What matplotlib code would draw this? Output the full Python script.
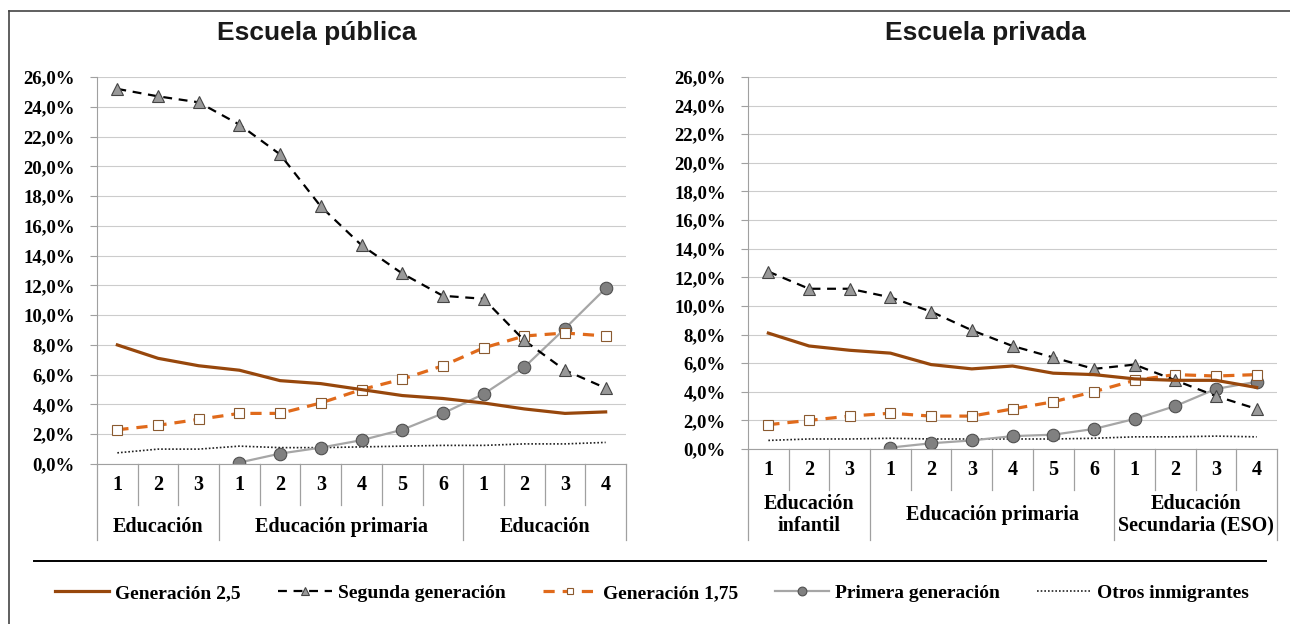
import matplotlib
matplotlib.use("Agg")
import matplotlib.pyplot as plt
from matplotlib.lines import Line2D
import matplotlib.transforms as mtransforms

# ---- data (percent) ----
grades = ["1", "2", "3", "1", "2", "3", "4", "5", "6", "1", "2", "3", "4"]

pub_gen25 = [8.0, 7.1, 6.6, 6.3, 5.6, 5.4, 5.0, 4.6, 4.4, 4.1, 3.7, 3.4, 3.5]
pub_seg = [25.2, 24.7, 24.3, 22.8, 20.8, 17.3, 14.7, 12.8, 11.3, 11.1, 8.3, 6.3, 5.1]
pub_gen175 = [2.3, 2.6, 3.0, 3.4, 3.4, 4.1, 5.0, 5.7, 6.6, 7.8, 8.6, 8.8, 8.6]
pub_prim = [None, None, None, 0.1, 0.7, 1.1, 1.6, 2.3, 3.4, 4.7, 6.5, 9.1, 11.8]
pub_otros = [0.75, 1.0, 1.0, 1.2, 1.1, 1.1, 1.15, 1.2, 1.25, 1.25, 1.35, 1.35, 1.45]

priv_gen25 = [8.1, 7.2, 6.9, 6.7, 5.9, 5.6, 5.8, 5.3, 5.2, 4.9, 4.8, 4.8, 4.3]
priv_seg = [12.4, 11.2, 11.2, 10.6, 9.6, 8.3, 7.2, 6.4, 5.6, 5.9, 4.8, 3.7, 2.8]
priv_gen175 = [1.7, 2.0, 2.3, 2.5, 2.3, 2.3, 2.8, 3.3, 4.0, 4.8, 5.2, 5.1, 5.2]
priv_prim = [None, None, None, 0.1, 0.4, 0.6, 0.9, 1.0, 1.4, 2.1, 3.0, 4.2, 4.7]
priv_otros = [0.6, 0.7, 0.7, 0.75, 0.7, 0.7, 0.7, 0.7, 0.75, 0.85, 0.85, 0.9, 0.85]

pub_groups = ["Educación", "Educación primaria", "Educación"]
priv_groups = ["Educación\ninfantil", "Educación primaria", "Educación\nSecundaria (ESO)"]
group_bounds = [(-0.5, 2.5), (2.5, 8.5), (8.5, 12.5)]

BROWN = "#97470c"
ORANGE = "#e06a1b"
GRAY_LINE = "#a6a6a6"
SERIF = "Liberation Serif"

W, H = 1290, 624
fig = plt.figure(figsize=(W / 100, H / 100), dpi=100)


def px_axes(x0, x1, ytop, ybot):
    return fig.add_axes([x0 / W, 1 - ybot / H, (x1 - x0) / W, (ybot - ytop) / H])


def panel(ax, gen25, seg, gen175, prim, otros, groups, num_bot, grp_bot, num_y, grp_y):
    x = list(range(len(grades)))
    ax.plot(x, otros, color="#222222", lw=1.2, ls=(0, (1, 1.2)), label="Otros inmigrantes")
    xp = [i for i, v in zip(x, prim) if v is not None]
    yp = [v for v in prim if v is not None]
    ax.plot(xp, yp, color=GRAY_LINE, lw=1.6, marker="o", ms=9,
            mfc="#808080", mec="#505050", mew=0.8, label="Primera generación")
    ax.plot(x, gen175, color=ORANGE, lw=2.3, ls=(0, (3.5, 2.5)), marker="s", ms=7,
            mfc="white", mec="#8a5a30", mew=0.8, label="Generación 1,75")
    ax.plot(x, seg, color="black", lw=1.6, ls=(0, (4, 3)), marker="^", ms=9,
            mfc="#999999", mec="#444444", mew=0.8, label="Segunda generación")
    ax.plot(x, gen25, color=BROWN, lw=2.3, label="Generación 2,5")

    ax.set_xlim(-0.5, 12.5)
    ax.set_ylim(0, 26)
    ax.set_yticks(range(0, 27, 2))
    ax.set_yticklabels([f"{v},0%" for v in range(0, 27, 2)], fontfamily=SERIF,
                       fontweight="bold", fontsize=13.5)
    ax.set_xticks([])
    ax.grid(axis="y", color="#cccccc", lw=0.8)
    ax.set_axisbelow(True)
    for s in ["top", "right"]:
        ax.spines[s].set_visible(False)
    ax.spines["left"].set_color("#a0a0a0")
    ax.spines["bottom"].set_color("#a0a0a0")
    ax.tick_params(axis="y", length=5, color="#a0a0a0", pad=11)

    # category table under the axis
    tr = mtransforms.blended_transform_factory(ax.transData, ax.transAxes)
    for k in range(1, 13):
        xb = k - 0.5
        bottom = grp_bot if xb in (2.5, 8.5) else num_bot
        ax.add_line(Line2D([xb, xb], [0, bottom], transform=tr, color="#a0a0a0",
                           lw=0.9, clip_on=False))
    for xb in (-0.5, 12.5):
        ax.add_line(Line2D([xb, xb], [0, grp_bot], transform=tr, color="#a0a0a0",
                           lw=0.9, clip_on=False))
    for i, g in enumerate(grades):
        ax.text(i, num_y, g, transform=tr, ha="center", va="center",
                fontfamily=SERIF, fontweight="bold", fontsize=14.5)
    for (a, b), g in zip(group_bounds, groups):
        ax.text((a + b) / 2, grp_y, g, transform=tr, ha="center", va="center",
                fontfamily=SERIF, fontweight="bold", fontsize=14.5, linespacing=1.1)


ax1 = px_axes(97, 626, 77, 464)
ax2 = px_axes(748, 1277, 77, 449)
h1 = 464 - 77
h2 = 449 - 77
panel(ax1, pub_gen25, pub_seg, pub_gen175, pub_prim, pub_otros, pub_groups,
      -(505 - 464) / h1, -(540 - 464) / h1, -(485 - 464) / h1, -(527 - 464) / h1)
panel(ax2, priv_gen25, priv_seg, priv_gen175, priv_prim, priv_otros, priv_groups,
      -(490 - 449) / h2, -(540 - 449) / h2, -(470 - 449) / h2, -(515 - 449) / h2)

fig.text(317 / W, 1 - 33 / H, "Escuela pública", ha="center", va="center",
         fontsize=19, fontweight="bold", fontfamily="Liberation Sans", color="#1a1a1a")
fig.text(985 / W, 1 - 33 / H, "Escuela privada", ha="center", va="center",
         fontsize=19, fontweight="bold", fontfamily="Liberation Sans", color="#1a1a1a")

# frame and separator
fig.add_artist(Line2D([9 / W, 1], [1 - 11 / H, 1 - 11 / H], color="#444444", lw=1.2))
fig.add_artist(Line2D([9 / W, 9 / W], [0, 1 - 11 / H], color="#444444", lw=1.2))
fig.add_artist(Line2D([34 / W, 1266 / W], [1 - 561 / H, 1 - 561 / H], color="black", lw=1.4))

handles, labels = ax1.get_legend_handles_labels()
order = [4, 3, 2, 1, 0]
fig.legend([handles[i] for i in order], [labels[i] for i in order], loc="center",
           bbox_to_anchor=(652 / W, 1 - 593 / H), ncol=5, frameon=False,
           prop={"family": SERIF, "weight": "bold", "size": 14},
           handlelength=2.8, handletextpad=0.3, columnspacing=1.9, markerscale=0.7)

fig.savefig("out.png", dpi=100)
